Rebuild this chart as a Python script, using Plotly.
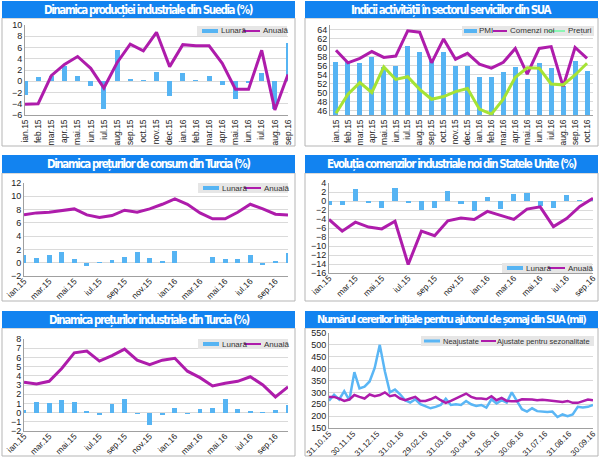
import plotly.graph_objects as go
import pandas as pd

W, H = 600, 457

# ---------------- DATA ----------------
m21 = ["ian.15", "feb.15", "mar.15", "apr.15", "mai.15", "iun.15", "iul.15", "aug.15", "sep.15", "oct.15",
       "nov.15", "dec.15", "ian.16", "feb.16", "mar.16", "apr.16", "mai.16", "iun.16", "iul.16", "aug.16", "sep.16"]
m22 = m21 + ["oct.16"]

# Panel 1: Suedia - productie industriala
se_lunara = [-2.4, 0.7, 1.0, 2.8, 0.9, -0.8, -4.9, 5.6, 0.4, 0.2, 1.7, -2.6, 1.4, 0.2, 0.9, -0.6, -3.1, -0.3, 1.5, -5.0, 6.8]
se_anuala = [-4.1, -4.0, 1.0, 3.0, 4.4, 2.3, -1.2, 3.3, 6.6, 5.4, 8.7, 2.6, 6.5, 6.3, 6.3, 3.2, -1.4, -1.4, 5.5, -5.1, 1.2]

# Panel 2: SUA - servicii
us_pmi = [56.7, 56.9, 56.5, 57.8, 55.7, 56.0, 60.3, 59.0, 57.1, 59.1, 55.9, 55.8, 53.5, 53.4, 54.5, 55.7, 52.9, 56.5, 55.5, 51.4, 57.1, 54.8]
us_comenzi = [59.4, 56.6, 57.6, 59.1, 57.8, 58.1, 63.7, 63.4, 56.6, 61.9, 57.4, 58.7, 56.3, 55.4, 56.7, 59.8, 54.1, 59.8, 60.2, 51.3, 60.0, 57.6]
us_preturi = [45.4, 49.6, 52.2, 50.0, 55.7, 52.9, 53.5, 50.7, 48.5, 49.1, 50.2, 50.9, 46.3, 45.2, 48.5, 53.4, 55.5, 55.4, 51.9, 51.7, 53.9, 56.5]

# Panel 3: Turcia - preturi de consum
tr_cpi_lunara = [1.1, 0.7, 1.2, 1.6, 0.5, -0.5, 0.1, 0.4, 0.9, 1.6, 0.7, 0.2, 1.8, 0.0, -0.04, 0.8, 0.6, 0.5, 1.2, -0.3, 0.2, 1.4]
tr_cpi_anuala = [7.2, 7.5, 7.6, 7.9, 8.1, 7.2, 6.8, 7.1, 7.9, 7.6, 8.1, 8.8, 9.6, 8.8, 7.5, 6.6, 6.6, 7.6, 8.8, 8.1, 7.3, 7.2]

# Panel 4: SUA - comenzi industriale noi
us_fo_lunara = [-0.8, -0.9, 2.7, -0.5, -1.6, 2.9, -0.4, -2.1, -1.6, 2.3, -0.6, -2.3, 0.9, -1.8, 1.6, 1.7, -1.1, -1.6, 1.3, 0.3, 0.4]
us_fo_anuala = [-4.1, -6.7, -4.7, -5.8, -6.2, -4.5, -14.1, -6.7, -7.7, -4.4, -3.8, -4.1, -2.3, -3.2, -4.1, -1.8, -1.3, -5.7, -3.9, -1.2, 0.6]

# Panel 5: Turcia - preturi industriale
tr_ppi_lunara = [0.3, 1.2, 1.0, 1.4, 1.1, 0.2, -0.3, 0.9, 1.5, -0.2, -1.4, -0.3, 0.5, -0.2, 0.4, 0.5, 1.5, 0.4, 0.2, 0.05, 0.3, 0.8]
tr_ppi_anuala = [3.3, 3.1, 3.4, 4.8, 6.5, 6.7, 5.6, 6.2, 6.9, 5.7, 5.2, 5.7, 5.9, 4.5, 3.8, 2.9, 3.2, 3.4, 3.9, 3.0, 1.7, 2.8]

# Panel 6: SUA - cereri initiale de somaj (mii), saptamanal
claims_dates = pd.date_range("2015-10-31", periods=53, freq="7D")
claims_neajustate = [265, 290, 270, 305, 267, 385, 317, 324, 346, 403, 500, 389, 300, 312, 292, 267, 257, 271, 250, 240,
                     233, 239, 247, 273, 247, 250, 247, 264, 250, 243, 247, 236, 271, 253, 267, 257, 300, 264, 229, 219,
                     233, 221, 219, 217, 219, 196, 207, 200, 207, 239, 236, 239, 247]
claims_ajustate = [281, 281, 274, 264, 270, 289, 281, 274, 291, 284, 289, 300, 284, 289, 274, 267, 274, 281, 264, 264,
                   271, 281, 267, 256, 264, 274, 283, 295, 281, 274, 274, 271, 284, 267, 277, 264, 263, 263, 271, 271,
                   270, 267, 269, 267, 264, 264, 260, 264, 256, 256, 264, 270, 267]
claims_ticktext = ["31.10.15", "30.11.15", "31.12.15", "31.01.16", "29.02.16", "31.03.16", "30.04.16", "31.05.16",
                   "30.06.16", "31.07.16", "31.08.16", "30.09.16"]
claims_tickvals = pd.date_range(claims_dates[0], claims_dates[-1], periods=len(claims_ticktext))

titles = [
    "Dinamica producției industriale din Suedia (%)",
    "Indicii activității în sectorul serviciilor din SUA",
    "Dinamica prețurilor de consum din Turcia (%)",
    "Evoluția comenzilor industriale noi din Statele Unite (%)",
    "Dinamica prețurilor industriale din Turcia (%)",
    "Numărul cererilor inițiale pentru ajutorul de șomaj din SUA (mii)",
]

# ---------------- STYLE ----------------
BLUE_BAR = "#56B4F3"
MAGENTA = "#AE1CAB"
GREEN = "#A6E334"
MINT = "#8CF5B4"
TITLE_BG = "#1283F0"
GRID = "#DADADA"
AXIS = "#A0A0A0"
FONT = "Liberation Sans, Arial, sans-serif"
TITLEFONT = "DejaVu Sans Condensed, DejaVu Sans, sans-serif"


def px_x(x):
    return x / W


def px_y(y):
    return 1 - y / H


# plot area pixel boxes (left, top, right, bottom)
boxes = [
    (25, 25, 288, 115),
    (330, 25, 593, 115),
    (24, 183, 288, 276),
    (329, 183, 593, 273),
    (24, 339, 288, 431),
    (329, 333, 593, 428),
]
# panel frames (left, title_top, title_bottom, right, bottom)
frames = [
    (2, 1, 18, 295, 146),
    (305, 1, 18, 598, 146),
    (2, 155, 173, 295, 301),
    (305, 155, 173, 598, 301),
    (2, 311, 328, 295, 456),
    (305, 311, 328, 598, 456),
]
title_sizes = [11.5, 11.5, 11.5, 11.5, 11.5, 11]

fig = go.Figure()


def ax(i):
    return ("x", "y") if i == 1 else (f"x{i}", f"y{i}")


def lunara_anuala(i, cats, bars, line):
    xa, ya = ax(i)
    fig.add_trace(go.Bar(x=cats, y=bars, name="Lunară", marker=dict(color=BLUE_BAR, line=dict(width=0)),
                         width=0.38, xaxis=xa, yaxis=ya))
    fig.add_trace(go.Scatter(x=cats, y=line, mode="lines", name="Anuală", line=dict(color=MAGENTA, width=3),
                             xaxis=xa, yaxis=ya))


lunara_anuala(1, m21, se_lunara, se_anuala)

fig.add_trace(go.Bar(x=m22, y=us_pmi, name="PMI", marker=dict(color=BLUE_BAR, line=dict(width=0)), width=0.42,
                     xaxis="x2", yaxis="y2"))
fig.add_trace(go.Scatter(x=m22, y=us_comenzi, mode="lines", name="Comenzi noi", line=dict(color=MAGENTA, width=3),
                         xaxis="x2", yaxis="y2"))
fig.add_trace(go.Scatter(x=m22, y=us_preturi, mode="lines", name="Prețuri", line=dict(color=GREEN, width=3),
                         xaxis="x2", yaxis="y2"))

lunara_anuala(3, m22, tr_cpi_lunara, tr_cpi_anuala)
lunara_anuala(4, m21, us_fo_lunara, us_fo_anuala)
lunara_anuala(5, m22, tr_ppi_lunara, tr_ppi_anuala)

fig.add_trace(go.Scatter(x=claims_dates, y=claims_neajustate, mode="lines", name="Neajustate",
                         line=dict(color="#5AB6F5", width=2.5), xaxis="x6", yaxis="y6"))
fig.add_trace(go.Scatter(x=claims_dates, y=claims_ajustate, mode="lines", name="Ajustate pentru sezonalitate",
                         line=dict(color=MAGENTA, width=2.5), xaxis="x6", yaxis="y6"))

layout = dict(
    width=W, height=H, margin=dict(l=0, r=0, t=0, b=0),
    paper_bgcolor="white", plot_bgcolor="white", template="none",
    barmode="overlay", bargap=0, showlegend=False,
)

yconf = [
    dict(range=[-6, 10], dtick=2),
    dict(range=[45, 65], dtick=2),
    dict(range=[-2, 12], dtick=2),
    dict(range=[-16, 4], dtick=2),
    dict(range=[-2, 8], dtick=1),
    dict(range=[150, 550], dtick=50),
]
xconf = [
    dict(type="category", range=[0, 20], tickangle=-90, tickvals=m21, tickfont=dict(size=8.5)),
    dict(type="category", range=[-0.5, 21.5], tickangle=-90, tickvals=m22, tickfont=dict(size=8.5)),
    dict(type="category", range=[0, 21], tickangle=-45, tickvals=m22[::2], tickfont=dict(size=8.5),
         ticklabelstandoff=-4),
    dict(type="category", range=[0, 20], tickangle=-45, tickvals=m21[::2], tickfont=dict(size=8.5),
         ticklabelstandoff=-4),
    dict(type="category", range=[0, 21], tickangle=-45, tickvals=m22[::2], tickfont=dict(size=8.5),
         ticklabelstandoff=-4),
    dict(type="date", range=[claims_dates[0], claims_dates[-1]], tickangle=-45, tickvals=claims_tickvals,
         ticktext=claims_ticktext, tickfont=dict(size=8), ticklabelstandoff=-3),
]

for i in range(6):
    l, t, r, b = boxes[i]
    suf = "" if i == 0 else str(i + 1)
    xc = xconf[i]
    tf = dict(family=FONT, color="#222222", **xc.pop("tickfont"))
    layout[f"xaxis{suf}"] = dict(
        domain=[px_x(l), px_x(r)], anchor=f"y{suf}", showgrid=False, zeroline=False,
        showline=True, linecolor=AXIS, linewidth=1, ticks="", tickfont=tf, fixedrange=True, **xc)
    layout[f"yaxis{suf}"] = dict(
        domain=[px_y(b), px_y(t)], anchor=f"x{suf}", showgrid=True, gridcolor=GRID, gridwidth=1,
        zeroline=False, showline=True, linecolor=AXIS, linewidth=1, ticks="",
        tickfont=dict(family=FONT, size=9, color="#222222"), fixedrange=True, **yconf[i])

shapes = []
annotations = []
for i, (l, tt, tb, r, b) in enumerate(frames):
    shapes.append(dict(type="rect", xref="paper", yref="paper", x0=px_x(l), x1=px_x(r), y0=px_y(b), y1=px_y(tb),
                       line=dict(color="#B5B5B5", width=1), fillcolor="rgba(0,0,0,0)", layer="below"))
    shapes.append(dict(type="rect", xref="paper", yref="paper", x0=px_x(l), x1=px_x(r), y0=px_y(tb), y1=px_y(tt),
                       line=dict(width=0), fillcolor=TITLE_BG, layer="below"))
    annotations.append(dict(
        text='<b><span style="letter-spacing:-1.4px">' + titles[i] + '</span></b>', xref="paper", yref="paper",
        x=px_x((l + r) / 2), y=px_y((tt + tb) / 2), xanchor="center", yanchor="middle",
        showarrow=False, font=dict(family=TITLEFONT, size=title_sizes[i], color="white")))

# legends: box (x0, y0, x1, y1), font size, items (name, color, thickness, swatch x0, swatch x1, text x)
legends = [
    ((197, 26, 287, 36), 8, [("Lunară", BLUE_BAR, 4, 202, 218, 220), ("Anuală", MAGENTA, 2, 243, 260, 262)]),
    ((462, 26, 594, 36), 8, [("PMI", BLUE_BAR, 4, 464, 477, 478), ("Comenzi noi", MAGENTA, 2, 493, 507, 509),
                             ("Prețuri", MINT, 2, 548, 565, 567)]),
    ((198, 183, 288, 193), 8, [("Lunară", BLUE_BAR, 4, 203, 219, 221), ("Anuală", MAGENTA, 2, 244, 261, 263)]),
    ((502, 263, 592, 273), 8, [("Lunară", BLUE_BAR, 4, 507, 523, 525), ("Anuală", MAGENTA, 2, 548, 565, 567)]),
    ((198, 339, 288, 349), 8, [("Lunară", BLUE_BAR, 4, 203, 219, 221), ("Anuală", MAGENTA, 2, 244, 261, 263)]),
    ((421, 336, 594, 346), 7.5, [("Neajustate", "#5AB6F5", 3, 424, 440, 442),
                                 ("Ajustate pentru sezonalitate", MAGENTA, 2, 481, 496, 496)]),
]
for (x0, y0, x1, y1), fs, items in legends:
    shapes.append(dict(type="rect", xref="paper", yref="paper", x0=px_x(x0), x1=px_x(x1), y0=px_y(y1), y1=px_y(y0),
                       line=dict(width=0), fillcolor="#E6E6E6", layer="above"))
    yc = (y0 + y1) / 2
    for name, col, th, sx0, sx1, tx in items:
        shapes.append(dict(type="line", xref="paper", yref="paper", x0=px_x(sx0), x1=px_x(sx1), y0=px_y(yc),
                           y1=px_y(yc), line=dict(color=col, width=th), layer="above"))
        annotations.append(dict(text=name, xref="paper", yref="paper", x=px_x(tx), y=px_y(yc), xanchor="left",
                                yanchor="middle", showarrow=False, borderpad=0,
                                font=dict(family=FONT, size=fs, color="#333333")))

layout["shapes"] = shapes
layout["annotations"] = annotations

fig.update_layout(**layout)
fig.write_html("out.html", config={"displayModeBar": False, "staticPlot": True},
               post_script="document.body.style.margin='0px';document.body.style.padding='0px';")
